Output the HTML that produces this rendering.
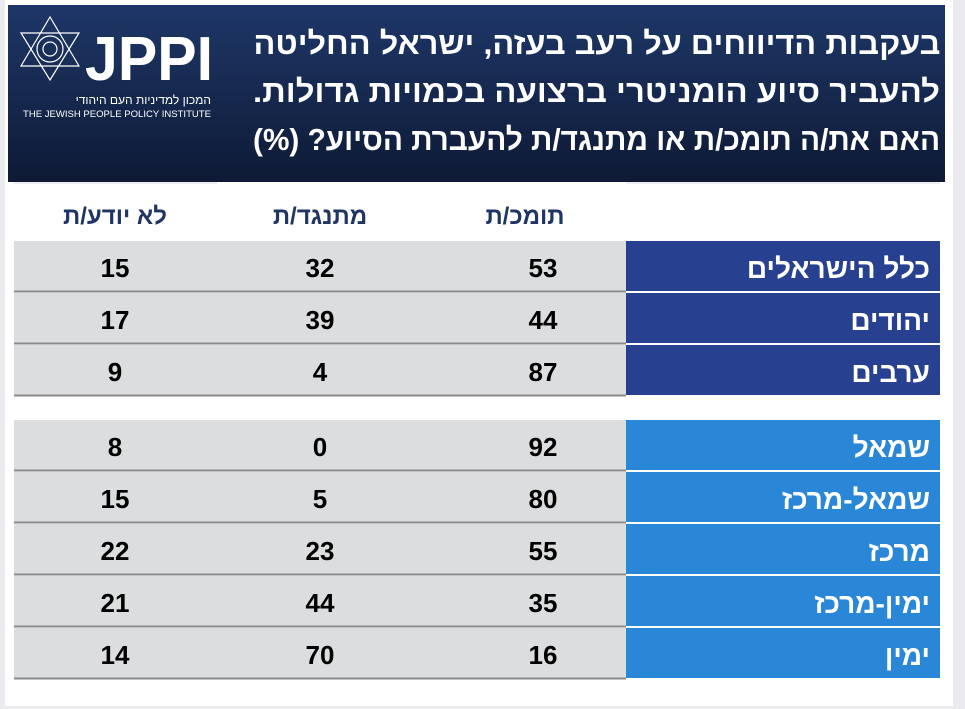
<!DOCTYPE html>
<html><head><meta charset="utf-8"><style>
body{margin:0;background:#ebeaef;}
svg{display:block;font-family:"Liberation Sans","DejaVu Sans",sans-serif;}
.tl{position:absolute;right:25px;white-space:nowrap;color:#fff;font:bold 31px "Liberation Sans","DejaVu Sans",sans-serif;transform-origin:right center;direction:rtl;}
</style></head><body>
<div style="position:relative;width:965px;height:709px;">
<svg width="965" height="709" viewBox="0 0 965 709" style="position:absolute;left:0;top:0">
<rect x="5" y="0" width="948" height="706" fill="#ffffff"/>
<defs><linearGradient id="hg" x1="0" y1="0" x2="0" y2="1"><stop offset="0" stop-color="#1e3768"/><stop offset="1" stop-color="#0e1a35"/></linearGradient></defs>
<rect x="8" y="5" width="937" height="177" fill="url(#hg)"/>
<g stroke="#fff" stroke-width="1.2" fill="none">
<polygon points="50,17 79,66 21,66"/>
<polygon points="50,80 79,33 21,33"/>
<circle cx="50" cy="49" r="13"/><circle cx="50" cy="49" r="7"/>
</g>
<text x="85" y="80" fill="#fff" font-size="62" font-weight="bold" textLength="128" lengthAdjust="spacingAndGlyphs">JPPI</text>
<text x="211" y="104" fill="#fff" font-size="12" text-anchor="start" direction="rtl">המכון למדיניות העם היהודי</text>
<text x="23" y="117" fill="#fff" font-size="9.5" textLength="188" lengthAdjust="spacingAndGlyphs">THE JEWISH PEOPLE POLICY INSTITUTE</text>
<line x1="14" y1="183" x2="217" y2="183" stroke="#dde" stroke-width="1"/>
<line x1="626" y1="183" x2="940" y2="183" stroke="#dde" stroke-width="1"/>
<g fill="#1f3563" font-size="24" font-weight="bold" text-anchor="middle">
<text x="525" y="224">תומכ/ת</text>
<text x="320" y="224">מתנגד/ת</text>
<text x="115" y="224">לא יודע/ת</text>
</g>
<g id="rows"></g>
</svg>
<div class="tl" style="top:26px">בעקבות הדיווחים על רעב בעזה, ישראל החליטה</div>
<div class="tl" style="top:74px">להעביר סיוע הומניטרי ברצועה בכמויות גדולות.</div>
<div class="tl" style="top:122px">האם את/ה תומכ/ת או מתנגד/ת להעברת הסיוע? (%)</div>
</div>
<script>
const labels=["כלל הישראלים","יהודים","ערבים","שמאל","שמאל-מרכז","מרכז","ימין-מרכז","ימין"];
const support=[53,44,87,92,80,55,35,16];
const oppose=[32,39,4,0,5,23,44,70];
const dontKnow=[15,17,9,8,15,22,21,14];
const NS="http://www.w3.org/2000/svg";
const g=document.getElementById('rows');
function mk(t,a){const e=document.createElementNS(NS,t);for(const k in a)e.setAttribute(k,a[k]);return e;}
function rowY(i){return i<3?241+i*52:420+(i-3)*52;}
document.querySelectorAll('.tl').forEach(d=>{const w=d.getBoundingClientRect().width;d.style.transform='scaleX('+(687/w)+')';});
labels.forEach((lab,i)=>{
  const y=rowY(i);
  const grp=mk('g',{});
  
  
  const bg=mk('rect',{x:14,y:y,width:612,height:50,fill:'#dcdddf'});
  
  
  grp.appendChild(bg);
  const ln=mk('line',{x1:14,y1:y+50.5,x2:626,y2:y+50.5,stroke:'#8a8a8a','stroke-width':2});
  
  
  grp.appendChild(ln);
  const lb=mk('rect',{x:626,y:y,width:314,height:50,fill:i<3?'#27408f':'#2a87d8'});
  
  
  grp.appendChild(lb);
  const lt=mk('text',{x:930,y:y+37,fill:'#fff','font-size':28,'font-weight':'bold','text-anchor':'start',direction:'rtl'});
  lt.textContent=lab;
  
  
  grp.appendChild(lt);
  [[543,support[i]],[320,oppose[i]],[115,dontKnow[i]]].forEach(([cx,v],j)=>{
    const t=mk('text',{x:cx,y:y+36,fill:'#000','font-size':26,'font-weight':'bold','text-anchor':'middle'});
    t.textContent=v;
    
    
    grp.appendChild(t);
  });
  g.appendChild(grp);
});
</script>
</body></html>
